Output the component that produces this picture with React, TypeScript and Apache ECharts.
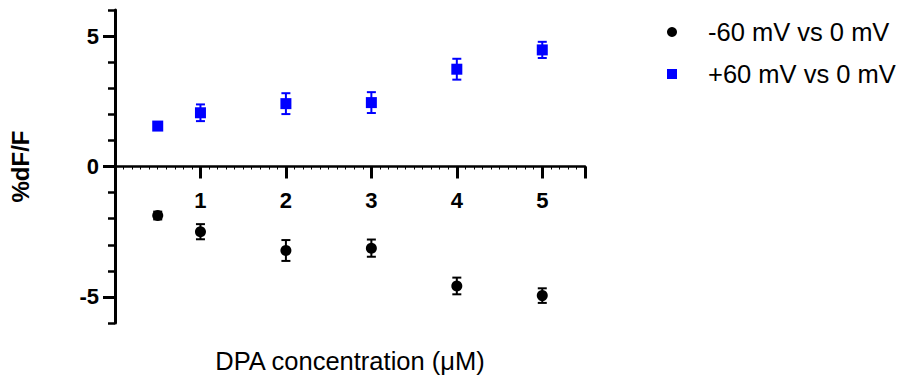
import React, { useEffect, useRef } from "react";
import * as echarts from "echarts";

const xValues = [0.5, 1, 2, 3, 4, 5];
const negMean = [-1.88, -2.5, -3.22, -3.13, -4.58, -4.95];
const negErr = [0.15, 0.29, 0.4, 0.33, 0.32, 0.28];
const posMean = [1.55, 2.06, 2.41, 2.45, 3.73, 4.47];
const posErr = [0.15, 0.32, 0.4, 0.4, 0.4, 0.31];
const seriesNames = ["-60 mV vs 0 mV", "+60 mV vs 0 mV"];
const yLabelValues = [-5, 0, 5];
const xTitle = "DPA concentration (\u03bcM)";
const yTitle = "%dF/F";

const FONT = "'Liberation Sans', Arial, Helvetica, sans-serif";
const BLUE = "#0000ff";
const BLACK = "#000000";

const GRID_TOP = 10;
const GRID_BOTTOM = 66;
const PLOT_H = 389 - GRID_TOP - GRID_BOTTOM;
// x axis sits at y = 0, i.e. the middle of a -6..6 range
const X_OFFSET = -PLOT_H / 2;

function errorBarSeries(name: string, means: number[], errs: number[], color: string) {
  return {
    type: "custom",
    name,
    xAxisIndex: 0,
    yAxisIndex: 0,
    z: 2,
    data: xValues.map((x, i) => [x, means[i], errs[i]]),
    renderItem: (params: any, api: any) => {
      const x = api.value(0);
      const y = api.value(1);
      const e = api.value(2);
      const top = api.coord([x, y + e]);
      const bot = api.coord([x, y - e]);
      const hw = 4.5;
      const style = { stroke: color, lineWidth: 2 };
      return {
        type: "group",
        children: [
          { type: "line", shape: { x1: top[0], y1: top[1], x2: bot[0], y2: bot[1] }, style },
          { type: "line", shape: { x1: top[0] - hw, y1: top[1], x2: top[0] + hw, y2: top[1] }, style },
          { type: "line", shape: { x1: bot[0] - hw, y1: bot[1], x2: bot[0] + hw, y2: bot[1] }, style },
        ],
      };
    },
  };
}

export default function App() {
  const ref = useRef<HTMLDivElement>(null);
  useEffect(() => {
    if (!ref.current) return;
    const chart = echarts.init(ref.current, null, { renderer: "svg" });
    chart.setOption({
      animation: false,
      backgroundColor: "#ffffff",
      grid: {
        left: 115,
        right: 316,
        top: GRID_TOP,
        bottom: GRID_BOTTOM,
        containLabel: false,
        outerBoundsMode: "none",
      },
      legend: {
        orient: "vertical",
        left: 667,
        top: 18,
        padding: 0,
        itemWidth: 10,
        itemHeight: 10,
        itemGap: 14,
        selectedMode: false,
        textStyle: {
          fontFamily: FONT,
          fontSize: 25.5,
          color: "#000",
          lineHeight: 28,
          padding: [0, 0, 0, 26],
        },
        data: [
          { name: seriesNames[0], icon: "circle", itemStyle: { color: BLACK, opacity: 1 } },
          { name: seriesNames[1], icon: "rect", itemStyle: { color: BLUE, opacity: 1 } },
        ],
      },
      xAxis: {
        type: "value",
        min: 0,
        max: 5.5,
        interval: 1,
        offset: X_OFFSET,
        name: xTitle,
        nameLocation: "middle",
        nameGap: 181,
        nameTextStyle: { fontFamily: FONT, fontSize: 25.5, color: "#000" },
        axisLine: { show: true, onZero: false, lineStyle: { color: "#000", width: 2.5 } },
        axisTick: { show: true, length: 12, lineStyle: { color: "#000", width: 3 } },
        minorTick: { show: true, splitNumber: 10, length: 3, lineStyle: { color: "#000", width: 1 } },
        splitLine: { show: false },
        axisLabel: {
          fontFamily: FONT,
          fontSize: 22,
          fontWeight: "bold",
          color: "#000",
          margin: 23,
          showMaxLabel: false,
          formatter: (v: number) => (v === 0 || v % 1 !== 0 ? "" : String(v)),
        },
      },
      yAxis: [
        {
          type: "value",
          min: -6,
          max: 6,
          interval: 1,
          name: yTitle,
          nameLocation: "middle",
          nameGap: 83,
          nameTextStyle: { fontFamily: FONT, fontSize: 24, fontWeight: "bold", color: "#000" },
          axisLine: { show: true, onZero: false, lineStyle: { color: "#000", width: 3 } },
          axisTick: { show: true, length: 7, lineStyle: { color: "#000", width: 2.5 } },
          splitLine: { show: false },
          axisLabel: { show: false },
        },
        {
          type: "value",
          min: -6,
          max: 6,
          interval: 1,
          position: "left",
          axisLine: { show: false, onZero: false },
          axisTick: {
            show: true,
            length: 12,
            customValues: yLabelValues,
            lineStyle: { color: "#000", width: 3 },
          },
          splitLine: { show: false },
          axisLabel: {
            show: true,
            customValues: yLabelValues,
            fontFamily: FONT,
            fontSize: 22,
            fontWeight: "bold",
            color: "#000",
            margin: 16,
          },
        },
      ],
      series: [
        errorBarSeries("err-neg", negMean, negErr, BLACK),
        errorBarSeries("err-pos", posMean, posErr, BLUE),
        {
          type: "scatter",
          name: seriesNames[0],
          symbol: "circle",
          symbolSize: 11,
          itemStyle: { color: BLACK, opacity: 1 },
          z: 3,
          data: xValues.map((x, i) => [x, negMean[i]]),
        },
        {
          type: "scatter",
          name: seriesNames[1],
          symbol: "rect",
          symbolSize: 11,
          itemStyle: { color: BLUE, opacity: 1 },
          z: 3,
          data: xValues.map((x, i) => [x, posMean[i]]),
        },
      ],
    });
    return () => chart.dispose();
  }, []);
  return (
    <div
      ref={ref}
      style={{ position: "fixed", left: 0, top: 0, width: 901, height: 389, background: "#fff" }}
    />
  );
}
